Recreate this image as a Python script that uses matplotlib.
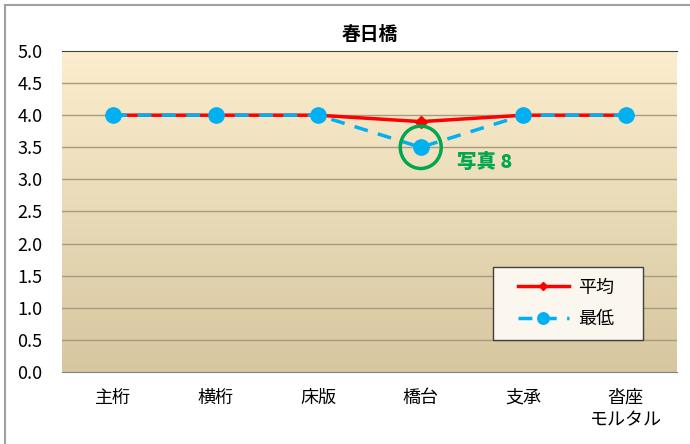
import matplotlib
matplotlib.use("Agg")
import matplotlib.pyplot as plt
from matplotlib.patches import Ellipse, Rectangle
from matplotlib.lines import Line2D
import numpy as np

plt.rcParams['font.family'] = ['Noto Sans CJK JP', 'DejaVu Sans']

categories = ["主桁", "横桁", "床版", "橋台", "支承", "沓座\nモルタル"]
heikin = [4.0, 4.0, 4.0, 3.9, 4.0, 4.0]
saitei = [4.0, 4.0, 4.0, 3.5, 4.0, 4.0]
yticks = [0.0, 0.5, 1.0, 1.5, 2.0, 2.5, 3.0, 3.5, 4.0, 4.5, 5.0]

W, H = 690, 444
AX_L, AX_T, AX_W, AX_H = 62, 51, 615, 321
fig = plt.figure(figsize=(W / 100, H / 100), dpi=100)
ax = fig.add_axes([AX_L / W, 1 - (AX_T + AX_H) / H, AX_W / W, AX_H / H])

# background gradient (light cream at top to tan at bottom)
top = np.array([252, 237, 206]) / 255
bot = np.array([214, 199, 160]) / 255
t = np.linspace(0, 1, 256)[:, None]
grad = top * (1 - t[..., None]) + bot * t[..., None]
grad = np.repeat(grad, 2, axis=1)
ax.imshow(grad, extent=[-0.5, 5.5, 0, 5], aspect='auto', zorder=0)

x = np.arange(len(categories))
ax.set_xlim(-0.5, 5.5)
ax.set_ylim(0, 5)
ax.set_yticks(yticks)
ax.set_yticklabels([f"{v:.1f}" for v in yticks], fontsize=13)
ax.set_xticks(x)
ax.set_xticklabels(categories, fontsize=13, linespacing=1.3)
ax.tick_params(length=0)
ax.tick_params(axis='y', pad=14)
ax.tick_params(axis='x', pad=12)
for v in yticks[1:-1]:
    ax.axhline(v, color='#a89a7c', lw=1.0, zorder=1)
for s in ['left', 'right']:
    ax.spines[s].set_visible(False)
ax.spines['top'].set_color('#404040')
ax.spines['bottom'].set_color('#808080')

ax.plot(x, heikin, color='#ff0000', lw=2.5, marker='D', ms=6, zorder=3, label='平均')
ax.plot(x, saitei, color='#00b0f0', lw=2.5, ls=(0, (4, 3)), marker='o', ms=11,
        zorder=4, label='最低')

ax.set_title("春日橋", fontsize=13.5, fontweight='bold', pad=8)

# annotation circle and label
circ = Ellipse((3, 3.5), 0.4, 0.66, fill=False, edgecolor='#00a650', lw=2.5, zorder=5)
ax.add_patch(circ)
ax.text(3.35, 3.27, "写真 8", color='#00a650', fontsize=14, fontweight='heavy',
        va='center', ha='left', zorder=5)

# legend: manual frame box + frameless legend inside
bx0, bx1, by0, by1 = 493, 643, 267, 340
ax.add_patch(Rectangle(((bx0 - AX_L) / AX_W, 1 - (by1 - AX_T) / AX_H),
                       (bx1 - bx0) / AX_W, (by1 - by0) / AX_H,
                       transform=ax.transAxes, facecolor='#fbf7ef',
                       edgecolor='#404040', lw=1.0, zorder=6))
leg = ax.legend(loc='center left', fontsize=13, frameon=False,
                handlelength=2.8, handletextpad=0.5, borderpad=0,
                labelspacing=0.75, borderaxespad=0, markerscale=0.75,
                bbox_to_anchor=((518 - AX_L) / AX_W, 1 - (303.5 - AX_T) / AX_H))
leg.set_zorder(7)

# outer frame lines
fig.add_artist(Line2D([5 / W, 5 / W], [1 - 5 / H, 0], color='#a0a0a0', lw=1.5))
fig.add_artist(Line2D([5 / W, 1], [1 - 5 / H, 1 - 5 / H], color='#a0a0a0', lw=1.5))

fig.savefig("out.png", dpi=100)
